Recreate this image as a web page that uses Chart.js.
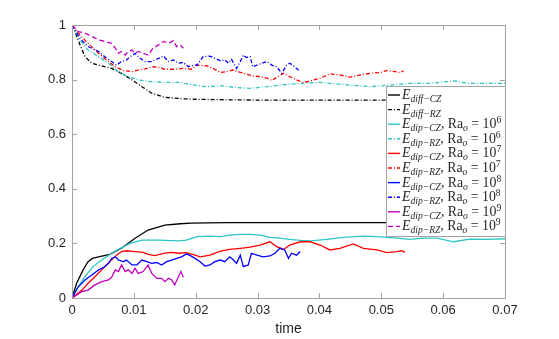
<!DOCTYPE html>
<html>
<head>
<meta charset="utf-8">
<script src="https://cdn.jsdelivr.net/npm/chart.js@4.4.1/dist/chart.umd.min.js"></script>
<style>
  html, body { margin: 0; padding: 0; background: #fff; }
  #wrap { width: 559px; height: 339px; }
</style>
</head>
<body>
<div id="wrap"><canvas id="chart" width="559" height="339"></canvas></div>
<script>
// ====================== Data ======================
const X_TICKS = [0, 0.01, 0.02, 0.03, 0.04, 0.05, 0.06, 0.07];
const X_TICK_LABELS = ["0", "0.01", "0.02", "0.03", "0.04", "0.05", "0.06", "0.07"];
const Y_TICKS = [0, 0.2, 0.4, 0.6, 0.8, 1];
const Y_TICK_LABELS = ["0", "0.2", "0.4", "0.6", "0.8", "1"];
const X_LABEL = "time";

// E_diff-CZ
const tDiffCZ = [0, 0.00075, 0.0018, 0.0026, 0.0033, 0.0043, 0.0061, 0.008, 0.0102, 0.0123, 0.015, 0.0175, 0.0193, 0.022, 0.025, 0.03, 0.04, 0.05, 0.06, 0.07];
const eDiffCZ = [0, 0.054, 0.103, 0.133, 0.145, 0.151, 0.16, 0.182, 0.219, 0.249, 0.267, 0.272, 0.274, 0.275, 0.276, 0.276, 0.276, 0.276, 0.276, 0.276];

// E_diff-RZ
const tDiffRZ = [0, 0.0005, 0.0013, 0.0021, 0.0032, 0.0048, 0.0064, 0.008, 0.0097, 0.0113, 0.0129, 0.015, 0.0177, 0.02, 0.025, 0.03, 0.04, 0.05, 0.06, 0.07];
const eDiffRZ = [1, 0.975, 0.927, 0.884, 0.86, 0.85, 0.841, 0.823, 0.799, 0.774, 0.75, 0.735, 0.73, 0.728, 0.726, 0.725, 0.725, 0.725, 0.725, 0.725];

// Ra = 1e6
const tCZ6 = [0, 0.001, 0.0021, 0.0034, 0.0048, 0.0064, 0.0078, 0.0094, 0.0113, 0.014, 0.0172, 0.0185, 0.0202, 0.0223, 0.024, 0.0255, 0.0272, 0.0288, 0.0304, 0.032, 0.0336, 0.0352, 0.0369, 0.0385, 0.0412, 0.0439, 0.0471, 0.0493, 0.0525, 0.0546, 0.0568, 0.059, 0.0617, 0.0643, 0.067, 0.07];
const eCZ6 = [0, 0.041, 0.078, 0.115, 0.139, 0.164, 0.182, 0.2, 0.212, 0.212, 0.209, 0.212, 0.225, 0.227, 0.225, 0.23, 0.233, 0.233, 0.23, 0.222, 0.219, 0.215, 0.211, 0.209, 0.215, 0.222, 0.227, 0.225, 0.219, 0.215, 0.219, 0.219, 0.206, 0.216, 0.215, 0.217];
const tRZ6 = [0, 0.0013, 0.0026, 0.0043, 0.0059, 0.0075, 0.0091, 0.0107, 0.0129, 0.015, 0.0172, 0.0199, 0.0218, 0.024, 0.026, 0.0288, 0.0315, 0.0336, 0.0369, 0.04, 0.0417, 0.0449, 0.0482, 0.0514, 0.0546, 0.0579, 0.0617, 0.0643, 0.0676, 0.07];
const eRZ6 = [1, 0.945, 0.908, 0.884, 0.86, 0.829, 0.811, 0.799, 0.792, 0.79, 0.79, 0.78, 0.774, 0.778, 0.772, 0.768, 0.774, 0.78, 0.786, 0.79, 0.786, 0.78, 0.774, 0.78, 0.786, 0.786, 0.795, 0.786, 0.786, 0.786];

// Ra = 1e7
const tCZ7 = [0, 0.0016, 0.0026, 0.0037, 0.0048, 0.0061, 0.0072, 0.008, 0.0088, 0.0102, 0.0115, 0.0123, 0.0134, 0.015, 0.0161, 0.0172, 0.0185, 0.0199, 0.0207, 0.0223, 0.024, 0.0255, 0.0272, 0.0288, 0.0304, 0.032, 0.0331, 0.0342, 0.0352, 0.0369, 0.0385, 0.0401, 0.0417, 0.0433, 0.0455, 0.0471, 0.0493, 0.0509, 0.0525, 0.0533, 0.0538];
const eCZ7 = [0, 0.029, 0.054, 0.078, 0.103, 0.133, 0.157, 0.17, 0.173, 0.17, 0.167, 0.16, 0.155, 0.164, 0.167, 0.164, 0.166, 0.157, 0.151, 0.157, 0.172, 0.178, 0.182, 0.186, 0.194, 0.206, 0.188, 0.178, 0.194, 0.206, 0.206, 0.194, 0.176, 0.182, 0.198, 0.182, 0.176, 0.166, 0.17, 0.173, 0.167];
const tRZ7 = [0, 0.0013, 0.0026, 0.0043, 0.0059, 0.007, 0.0083, 0.0097, 0.0107, 0.0118, 0.0131, 0.0142, 0.015, 0.0167, 0.018, 0.0194, 0.0202, 0.0218, 0.0228, 0.024, 0.025, 0.026, 0.0277, 0.0293, 0.0304, 0.0315, 0.0323, 0.0333, 0.0342, 0.0352, 0.0363, 0.0374, 0.0385, 0.0401, 0.0417, 0.0433, 0.0449, 0.0466, 0.0482, 0.0498, 0.0509, 0.0522, 0.053, 0.0536];
const eRZ7 = [1, 0.963, 0.933, 0.896, 0.866, 0.847, 0.833, 0.829, 0.835, 0.839, 0.847, 0.844, 0.838, 0.838, 0.841, 0.838, 0.853, 0.85, 0.841, 0.826, 0.829, 0.835, 0.823, 0.813, 0.811, 0.805, 0.797, 0.811, 0.823, 0.811, 0.799, 0.789, 0.795, 0.805, 0.821, 0.817, 0.809, 0.817, 0.823, 0.826, 0.833, 0.829, 0.826, 0.832];

// Ra = 1e8
const tCZ8 = [0, 0.001, 0.0021, 0.0032, 0.0043, 0.0051, 0.0059, 0.0064, 0.007, 0.0075, 0.0083, 0.0088, 0.0097, 0.0105, 0.0113, 0.0121, 0.0129, 0.0137, 0.0145, 0.0153, 0.0161, 0.0169, 0.0177, 0.0185, 0.019, 0.0199, 0.0207, 0.0215, 0.0223, 0.0231, 0.024, 0.0247, 0.0255, 0.0261, 0.0266, 0.0272, 0.0277, 0.0285, 0.029, 0.0299, 0.0309, 0.032, 0.0328, 0.0336, 0.0344, 0.035, 0.0355, 0.0363, 0.0369];
const eCZ8 = [0, 0.041, 0.066, 0.084, 0.103, 0.112, 0.127, 0.145, 0.151, 0.139, 0.133, 0.139, 0.121, 0.121, 0.139, 0.133, 0.127, 0.13, 0.121, 0.133, 0.139, 0.145, 0.151, 0.161, 0.157, 0.145, 0.133, 0.117, 0.121, 0.133, 0.139, 0.133, 0.151, 0.139, 0.127, 0.157, 0.115, 0.121, 0.164, 0.157, 0.151, 0.154, 0.164, 0.182, 0.176, 0.145, 0.164, 0.157, 0.17];
const tRZ8 = [0, 0.0013, 0.0026, 0.0043, 0.0053, 0.0064, 0.0072, 0.008, 0.0088, 0.0094, 0.0102, 0.011, 0.0118, 0.0129, 0.014, 0.0148, 0.0156, 0.0164, 0.0172, 0.018, 0.0188, 0.0196, 0.0202, 0.0212, 0.0223, 0.0231, 0.024, 0.0247, 0.0253, 0.0258, 0.0266, 0.0272, 0.0277, 0.0282, 0.0288, 0.0292, 0.0299, 0.0307, 0.0315, 0.0323, 0.0331, 0.0339, 0.0347, 0.0352, 0.036, 0.0369];
const eRZ8 = [1, 0.951, 0.921, 0.903, 0.884, 0.866, 0.853, 0.866, 0.872, 0.884, 0.896, 0.878, 0.866, 0.866, 0.878, 0.886, 0.866, 0.872, 0.86, 0.863, 0.847, 0.853, 0.853, 0.884, 0.886, 0.878, 0.869, 0.872, 0.86, 0.874, 0.841, 0.866, 0.89, 0.881, 0.884, 0.847, 0.853, 0.86, 0.866, 0.853, 0.847, 0.823, 0.853, 0.86, 0.847, 0.829];

// Ra = 1e9
const tCZ9 = [0, 0.0016, 0.0026, 0.0037, 0.0048, 0.0059, 0.0064, 0.007, 0.0075, 0.008, 0.0086, 0.0091, 0.0097, 0.0102, 0.0107, 0.0115, 0.0123, 0.0129, 0.0137, 0.0145, 0.015, 0.0156, 0.0161, 0.0166, 0.0172, 0.0176, 0.018];
const eCZ9 = [0, 0.023, 0.029, 0.048, 0.06, 0.066, 0.076, 0.103, 0.097, 0.121, 0.097, 0.103, 0.09, 0.109, 0.09, 0.097, 0.121, 0.09, 0.072, 0.072, 0.06, 0.072, 0.066, 0.048, 0.078, 0.097, 0.076];
const tRZ9 = [0, 0.001, 0.0021, 0.0032, 0.0043, 0.0053, 0.0064, 0.007, 0.0075, 0.008, 0.0086, 0.0091, 0.0097, 0.0102, 0.0107, 0.0115, 0.0123, 0.0131, 0.014, 0.0148, 0.0156, 0.0164, 0.0169, 0.0175, 0.018];
const eRZ9 = [1, 0.976, 0.97, 0.958, 0.945, 0.94, 0.933, 0.915, 0.896, 0.903, 0.89, 0.903, 0.908, 0.896, 0.903, 0.896, 0.89, 0.915, 0.927, 0.94, 0.933, 0.943, 0.921, 0.927, 0.915];

// legend text: subscript of E and exponent of Ra_o ("" = no Ra part)
const LEGEND_SUBS = ["diff\u2212CZ", "diff\u2212RZ", "dip\u2212CZ", "dip\u2212RZ", "dip\u2212CZ", "dip\u2212RZ", "dip\u2212CZ", "dip\u2212RZ", "dip\u2212CZ", "dip\u2212RZ"];
const LEGEND_RA_EXP = ["", "", "6", "6", "7", "7", "8", "8", "9", "9"];

// ====================== Styles ======================
const TIMES = [tDiffCZ, tDiffRZ, tCZ6, tRZ6, tCZ7, tRZ7, tCZ8, tRZ8, tCZ9, tRZ9];
const VALUES = [eDiffCZ, eDiffRZ, eCZ6, eRZ6, eCZ7, eRZ7, eCZ8, eRZ8, eCZ9, eRZ9];
const COLORS = ["#000000", "#000000", "#2cc5c5", "#2cc5c5", "#ff0000", "#ff0000", "#0000ff", "#0000ff", "#bf00bf", "#bf00bf"];
const DASH_DOT = [4, 2, 1, 2];
const DASHED = [5, 3];
const DASHES = [[], DASH_DOT, [], DASH_DOT, [], DASH_DOT, [], DASH_DOT, [], DASHED];

const AXIS_GRAY = "#a3a3a3";
const TEXT_COLOR = "#262626";

// ====================== Plugins ======================
// MATLAB-like box with inward ticks + x label
const framePlugin = {
  id: "frame",
  afterDraw(chart) {
    const { ctx, chartArea: a, scales } = chart;
    ctx.save();
    ctx.strokeStyle = AXIS_GRAY;
    ctx.lineWidth = 1;
    ctx.setLineDash([]);
    ctx.beginPath();
    X_TICKS.forEach(v => {
      const px = Math.round(scales.x.getPixelForValue(v)) + 0.5;
      ctx.moveTo(px, a.bottom); ctx.lineTo(px, a.bottom - 5);
      ctx.moveTo(px, a.top); ctx.lineTo(px, a.top + 5);
    });
    Y_TICKS.forEach(v => {
      const py = Math.round(scales.y.getPixelForValue(v)) + 0.5;
      ctx.moveTo(a.left, py); ctx.lineTo(a.left + 5, py);
      ctx.moveTo(a.right, py); ctx.lineTo(a.right - 5, py);
    });
    ctx.stroke();
    ctx.strokeRect(Math.round(a.left) + 0.5, Math.round(a.top) + 0.5,
      Math.round(a.right - a.left), Math.round(a.bottom - a.top));

    ctx.fillStyle = TEXT_COLOR;
    ctx.font = "14px 'Liberation Sans', Arial, sans-serif";
    ctx.textAlign = "center";
    ctx.textBaseline = "middle";
    ctx.fillText(X_LABEL, (a.left + a.right) / 2, 329);
    ctx.restore();
  }
};

// legend with sub/superscripts
const texLegend = {
  id: "texLegend",
  afterDraw(chart) {
    const { ctx, chartArea: a } = chart;
    const x0 = 386, y0 = 86, w = a.right - x0, h = 150, step = 14.6;
    ctx.save();
    ctx.fillStyle = "#fff";
    ctx.fillRect(x0, y0, w, h);
    ctx.strokeStyle = AXIS_GRAY;
    ctx.lineWidth = 1;
    ctx.strokeRect(x0 + 0.5, y0 + 0.5, w, h);

    const big = "13.8px 'Liberation Serif', 'DejaVu Serif', serif";
    const bigIt = "italic 13.8px 'Liberation Serif', 'DejaVu Serif', serif";
    const smIt = "italic 9.6px 'Liberation Serif', 'DejaVu Serif', serif";
    const sm = "9.6px 'Liberation Serif', 'DejaVu Serif', serif";

    LEGEND_SUBS.forEach((sub, i) => {
      const yc = y0 + 9 + i * step;
      ctx.strokeStyle = COLORS[i];
      ctx.lineWidth = 1.4;
      ctx.setLineDash(DASHES[i]);
      ctx.beginPath();
      ctx.moveTo(x0 + 2, yc); ctx.lineTo(x0 + 14, yc);
      ctx.stroke();
      ctx.setLineDash([]);

      ctx.fillStyle = TEXT_COLOR;
      ctx.textAlign = "left";
      ctx.textBaseline = "alphabetic";
      const base = yc + 4;
      let x = x0 + 16;
      const put = (txt, font, dy) => {
        ctx.font = font;
        ctx.fillText(txt, x, base + dy);
        x += ctx.measureText(txt).width;
      };
      put("E", bigIt, 0);
      put(sub, smIt, 3);
      const ex = LEGEND_RA_EXP[i];
      if (ex) {
        put(", Ra", big, 0);
        put("o", smIt, 3);
        put(" = 10", big, 0);
        put(ex, sm, -5);
      }
    });
    ctx.restore();
  }
};

// ====================== Chart ======================
const datasets = VALUES.map((vals, i) => ({
  label: LEGEND_SUBS[i] + (LEGEND_RA_EXP[i] ? ", Ra_o = 10^" + LEGEND_RA_EXP[i] : ""),
  data: vals.map((v, k) => ({ x: TIMES[i][k], y: v })),
  borderColor: COLORS[i],
  borderWidth: 1.3,
  borderDash: DASHES[i],
  pointRadius: 0,
  tension: 0,
  fill: false,
  order: VALUES.length - i
}));

const tickFont = { family: "'Liberation Sans', Arial, sans-serif", size: 13 };

new Chart(document.getElementById("chart"), {
  type: "line",
  data: { datasets },
  options: {
    responsive: false,
    animation: false,
    devicePixelRatio: 1,
    layout: { padding: { top: 25, right: 54, left: 0, bottom: 0 } },
    plugins: { legend: { display: false }, tooltip: { enabled: false } },
    scales: {
      x: {
        type: "linear",
        min: 0, max: 0.07,
        afterBuildTicks: s => { s.ticks = X_TICKS.map(v => ({ value: v })); },
        afterFit: s => { s.height = 41; },
        grid: { display: false, drawTicks: false },
        border: { display: false },
        ticks: {
          padding: 5, color: TEXT_COLOR, font: tickFont, maxRotation: 0,
          callback: (v, idx) => X_TICK_LABELS[idx]
        }
      },
      y: {
        type: "linear",
        min: 0, max: 1,
        afterBuildTicks: s => { s.ticks = Y_TICKS.map(v => ({ value: v })); },
        afterFit: s => { s.width = 72; },
        grid: { display: false, drawTicks: false },
        border: { display: false },
        ticks: {
          padding: 6, color: TEXT_COLOR, font: tickFont,
          callback: (v, idx) => Y_TICK_LABELS[idx]
        }
      }
    }
  },
  plugins: [framePlugin, texLegend]
});
</script>
</body>
</html>
